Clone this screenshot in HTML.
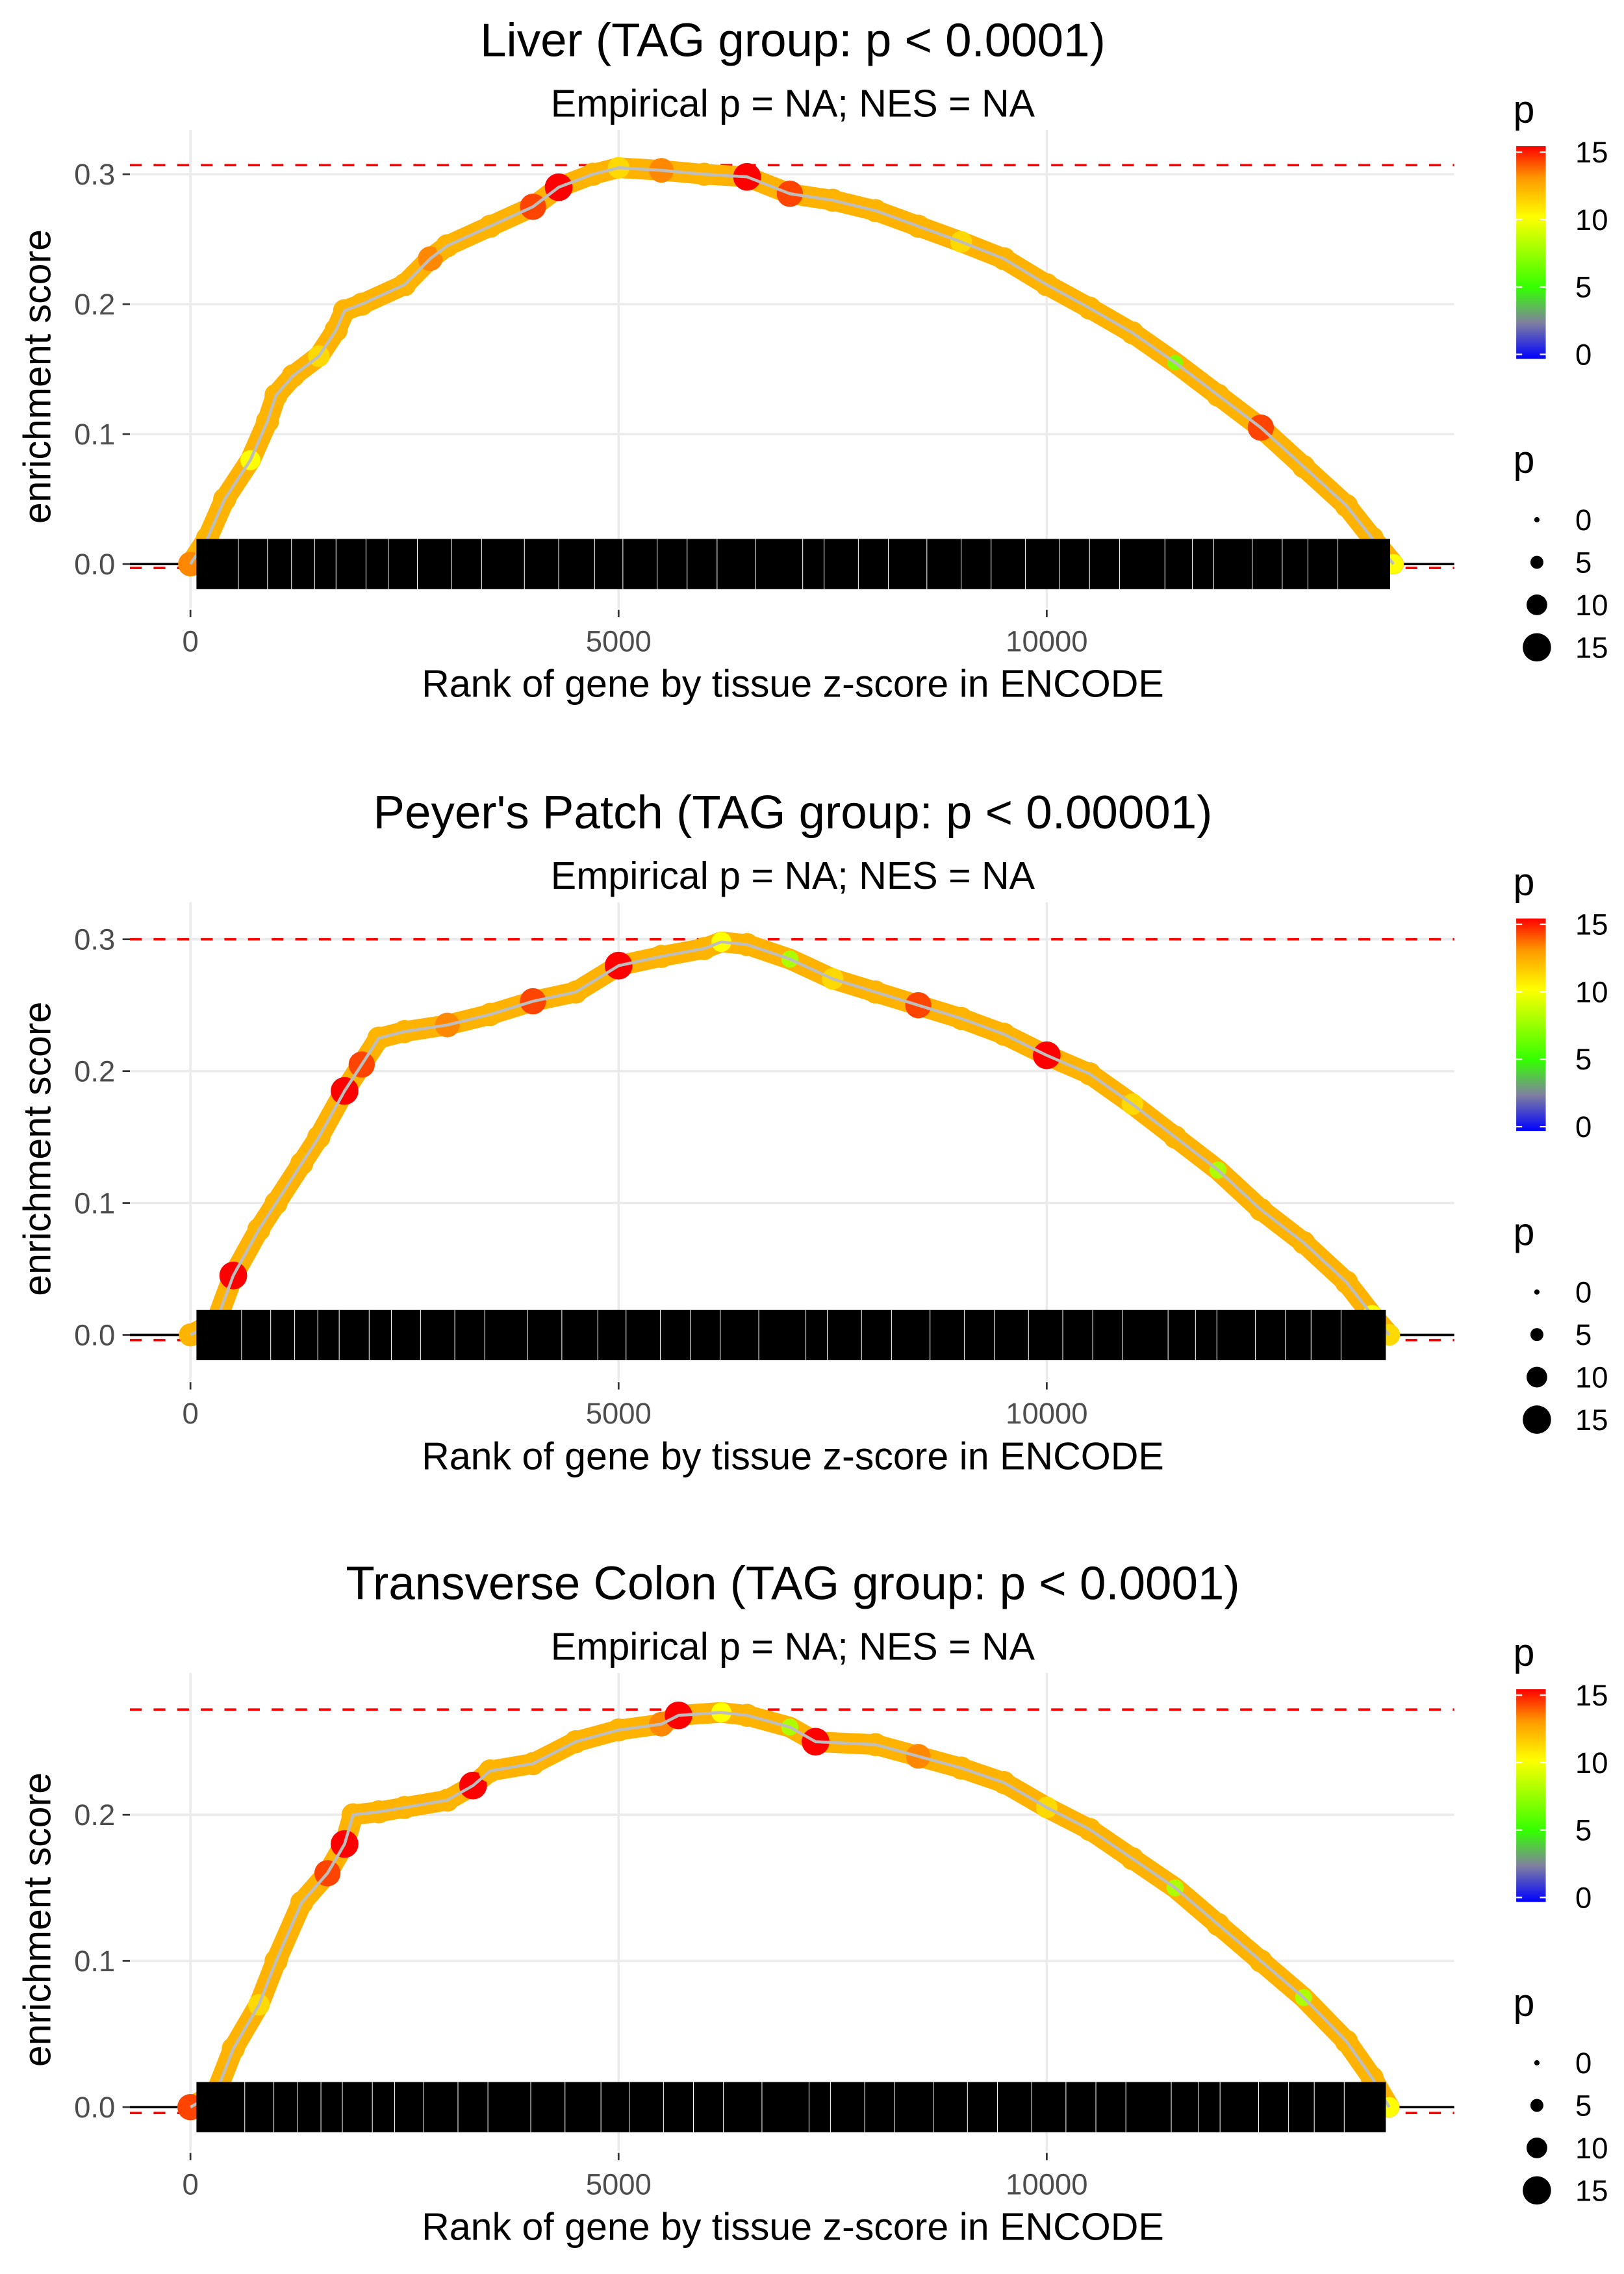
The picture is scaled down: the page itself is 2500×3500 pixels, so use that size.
<!DOCTYPE html>
<html><head><meta charset="utf-8">
<style>
html,body{margin:0;padding:0;background:#fff;}
svg{display:block;font-family:"Liberation Sans",sans-serif;}
</style></head>
<body>
<svg id="fig" width="2500" height="3500" viewBox="0 0 1100 1540" xmlns="http://www.w3.org/2000/svg">
<defs>
<linearGradient id="cbar" x1="0" y1="1" x2="0" y2="0">
<stop offset="0" stop-color="#0000ff"/>
<stop offset="0.17" stop-color="#8080a0"/>
<stop offset="0.333" stop-color="#33ff00"/>
<stop offset="0.667" stop-color="#ffff00"/>
<stop offset="0.85" stop-color="#ff9900"/>
<stop offset="1" stop-color="#ff0000"/>
</linearGradient>
</defs>
</svg>
<script>
// ---------- data ----------
const titles = ["Liver (TAG group: p < 0.0001)","Peyer's Patch (TAG group: p < 0.00001)","Transverse Colon (TAG group: p < 0.0001)"];
const xTicks = [0,5000,10000];
const xTickLabels = ["0","5000","10000"];
const yTicks1 = [0,0.1,0.2,0.3];
const yTicks2 = [0,0.1,0.2,0.3];
const yTicks3 = [0,0.1,0.2];
const yTickLabels1 = ["0.0","0.1","0.2","0.3"];
const yTickLabels2 = ["0.0","0.1","0.2","0.3"];
const yTickLabels3 = ["0.0","0.1","0.2"];
const ranks1 = [0,200,400,700,900,1000,1200,1500,1700,1800,2000,2500,2800,3000,3500,4000,4300,4700,5000,5500,6000,6500,7000,7500,8000,8500,9000,9500,10000,10500,11000,11500,12000,12500,13000,13500,13800,14050];
const es1 = [0,0.02,0.05,0.08,0.11,0.13,0.145,0.16,0.18,0.195,0.2,0.215,0.235,0.245,0.26,0.275,0.29,0.3,0.305,0.303,0.3,0.298,0.285,0.28,0.272,0.26,0.248,0.235,0.215,0.197,0.178,0.155,0.13,0.105,0.075,0.045,0.02,0];
const p1 = [13,12,12,10,12,12,12,11,12,12,12,12,13,12,12,14,15,12,11,13,12,15,14,12,12,12,11,12,12,12,12,7,12,14,12,12,12,10];
const ranks2 = [0,300,500,800,1000,1300,1500,1800,2000,2200,2500,3000,3500,4000,4500,5000,5500,6000,6200,6500,7000,7500,8000,8500,9000,9500,10000,10500,11000,11500,12000,12500,13000,13500,13800,14000];
const es2 = [0,0.01,0.045,0.08,0.1,0.13,0.15,0.185,0.205,0.225,0.23,0.235,0.243,0.253,0.26,0.28,0.287,0.293,0.298,0.296,0.285,0.27,0.26,0.25,0.24,0.228,0.212,0.198,0.175,0.15,0.125,0.095,0.07,0.04,0.015,0];
const p2 = [12,12,15,12,12,12,12,15,14,12,12,13,12,14,12,15,12,12,10,12,8,11,12,14,12,12,15,12,11,12,8,12,12,12,10,11];
const ranks3 = [0,300,500,800,1000,1300,1600,1800,1900,2200,2500,3000,3300,3500,4000,4500,5000,5500,5700,6200,6500,7000,7300,8000,8500,9000,9500,10000,10500,11000,11500,12000,12500,13000,13500,13800,14000];
const es3 = [0,0.01,0.04,0.07,0.1,0.14,0.16,0.18,0.2,0.202,0.205,0.21,0.22,0.23,0.235,0.25,0.258,0.262,0.268,0.27,0.268,0.26,0.25,0.248,0.24,0.232,0.222,0.205,0.19,0.17,0.15,0.125,0.1,0.075,0.045,0.02,0];
const p3 = [14,12,12,11,12,12,14,15,12,12,12,12,15,12,12,12,12,13,15,10,12,8,15,12,13,12,12,11,12,12,8,12,12,8,12,12,10];
const esMax = [0.307,0.3,0.272];
const esMin = [-0.003,-0.004,-0.004];
const rugGaps = [560,900,1180,1450,1700,2050,2310,2650,3050,3400,3900,4300,4720,5050,5450,5800,6150,6600,7150,7400,7800,8150,8600,9000,9350,9750,10150,10500,10850,11380,11700,11950,12400,12750,13050,13400];
const legendColorVals = [15,10,5,0];
const legendSizeVals = [0,5,10,15];

// ---------- layout ----------
const NS = "http://www.w3.org/2000/svg";
const svg = document.getElementById('fig');
const offsets = [0,523,1045];
const zeroY = [382,904,1427];
const pxPer01 = [88,89.3,99];
const X0 = 129, XS = 0.058, XL = 88, XR = 985;
function xs(r){ return X0 + r*XS; }
function el(tag, attrs, parent){ const e=document.createElementNS(NS,tag); for(const k in attrs) e.setAttribute(k,attrs[k]); (parent||svg).appendChild(e); return e; }
function pcol(p){
  const stops=[[0,[0,0,255]],[2.5,[128,128,160]],[5,[51,255,0]],[10,[255,255,0]],[12.75,[255,153,0]],[15,[255,0,0]]];
  for(let i=1;i<stops.length;i++){ if(p<=stops[i][0]){ const a=stops[i-1],b=stops[i]; const t=(p-a[0])/(b[0]-a[0]); const c=a[1].map((v,j)=>Math.round(v+(b[1][j]-v)*t)); return `rgb(${c[0]},${c[1]},${c[2]})`; } }
  return 'rgb(255,0,0)';
}
function psize(p){ return 1.6 + p*0.52; }

const allRanks=[ranks1,ranks2,ranks3], allEs=[es1,es2,es3], allP=[p1,p2,p3];
const allYT=[yTicks1,yTicks2,yTicks3], allYL=[yTickLabels1,yTickLabels2,yTickLabels3];

for(let k=0;k<3;k++){
  const o=offsets[k];
  const ys = v => zeroY[k] - v*pxPer01[k]*10;
  const g = el('g',{});
  
  
  const top=o+88, bot=o+412;
  allYT[k].forEach((t,i)=>{
    const l=el('line',{x1:XL,x2:XR,y1:ys(t),y2:ys(t),stroke:'#ebebeb','stroke-width':1.6},g);
    
    
    const tk=el('line',{x1:83,x2:88,y1:ys(t),y2:ys(t),stroke:'#333','stroke-width':1.2},g);
    
    
    const tl=el('text',{x:78,y:ys(t)+7,'text-anchor':'end','font-size':20,fill:'#4d4d4d'},g);
    tl.textContent=allYL[k][i];
    
    
  });
  xTicks.forEach((t,i)=>{
    const l=el('line',{x1:xs(t),x2:xs(t),y1:top,y2:bot,stroke:'#ebebeb','stroke-width':1.6},g);
    
    
    const tk=el('line',{x1:xs(t),x2:xs(t),y1:bot+1,y2:bot+6,stroke:'#333','stroke-width':1.2},g);
    
    
    const tl=el('text',{x:xs(t),y:o+441,'text-anchor':'middle','font-size':20,fill:'#4d4d4d'},g);
    tl.textContent=xTickLabels[i];
    
    
  });
  [esMax[k],esMin[k]].forEach((v,i)=>{
    const d=el('line',{x1:XL,x2:XR,y1:ys(v),y2:ys(v),stroke:'#ff0000','stroke-width':1.6,'stroke-dasharray':'8 8'},g);
    
    
  });
  const z=el('line',{x1:XL,x2:XR,y1:ys(0),y2:ys(0),stroke:'#000','stroke-width':1.6},g);
  
  
  const R=allRanks[k],E=allEs[k],P=allP[k];
  const pts=R.map((r,i)=>xs(r)+','+ys(E[i])).join(' ');
  const band=el('polyline',{points:pts,fill:'none',stroke:'#ffb300','stroke-width':14,'stroke-linejoin':'round','stroke-linecap':'round'},g);
  
  
  R.forEach((r,i)=>{
    const c=el('circle',{cx:xs(r),cy:ys(E[i]),r:psize(P[i]),fill:pcol(P[i])},g);
    
    
  });
  const line=el('polyline',{points:pts,fill:'none',stroke:'#bebebe','stroke-width':2,'stroke-linejoin':'round'},g);
  
  
  const rx0=xs(70), rx1=xs(R[R.length-1]-40);
  const rug=el('rect',{x:rx0,y:ys(0)-17,width:rx1-rx0,height:34,fill:'#000'},g);
  
  
  rugGaps.forEach(r=>{
    const gl=el('line',{x1:xs(r+k*37),x2:xs(r+k*37),y1:ys(0)-17,y2:ys(0)+17,stroke:'#fff','stroke-width':0.45},g);
    
    
  });
  const ti=el('text',{x:537,y:o+38,'text-anchor':'middle','font-size':32,fill:'#000'},g);
  ti.textContent=titles[k];
  
  
  const st=el('text',{x:537,y:o+79,'text-anchor':'middle','font-size':26,fill:'#000'},g);
  st.textContent='Empirical p = NA; NES = NA';
  
  
  const xt=el('text',{x:537,y:o+472,'text-anchor':'middle','font-size':26,fill:'#000'},g);
  xt.textContent='Rank of gene by tissue z-score in ENCODE';
  
  
  const yt=el('text',{x:0,y:0,'text-anchor':'middle','font-size':26,fill:'#000',transform:`translate(34,${o+255}) rotate(-90)`},g);
  yt.textContent='enrichment score';
  
  
  const lp=el('text',{x:1025,y:o+83,'font-size':26,fill:'#000'},g);
  lp.textContent='p';
  
  
  const cb=el('rect',{x:1027,y:o+99,width:20,height:144,fill:'url(#cbar)'},g);
  
  
  legendColorVals.forEach(v=>{
    const yy=o+240-v*(137/15);
    el('line',{x1:1027,x2:1031,y1:yy,y2:yy,stroke:'#fff','stroke-width':1},g);
    el('line',{x1:1043,x2:1047,y1:yy,y2:yy,stroke:'#fff','stroke-width':1},g);
    const t=el('text',{x:1067,y:yy+7,'font-size':20,fill:'#000'},g);
    t.textContent=String(v);
    
    
  });
  const sp=el('text',{x:1025,y:o+320,'font-size':26,fill:'#000'},g);
  sp.textContent='p';
  
  
  legendSizeVals.forEach((v,i)=>{
    const yy=o+352+i*28.8;
    const c=el('circle',{cx:1041,cy:yy,r:1.8+v*0.52,fill:'#000'},g);
    
    
    const t=el('text',{x:1067,y:yy+7,'font-size':20,fill:'#000'},g);
    t.textContent=String(v);
    
    
  });
}
</script>
</body></html>
